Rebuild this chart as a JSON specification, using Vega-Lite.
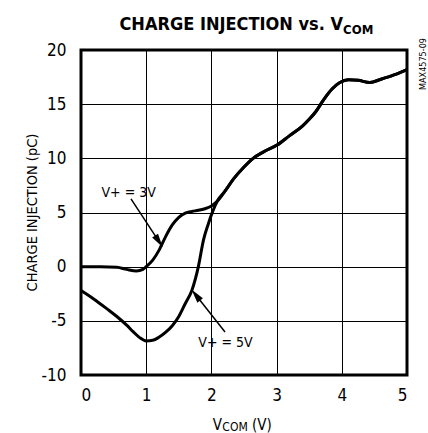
{
  "$schema": "https://vega.github.io/schema/vega-lite/v6.json",
  "width": 326,
  "height": 325,
  "autosize": {"type": "none"},
  "padding": {"left": 81, "top": 50, "right": 21, "bottom": 58},
  "background": "white",
  "config": {
    "view": {"stroke": "black", "strokeWidth": 3},
    "font": "DejaVu Sans Condensed",
    "axis": {
      "domain": false,
      "ticks": false,
      "grid": true,
      "gridColor": "black",
      "gridWidth": 1,
      "gridOpacity": 1,
      "labelFont": "DejaVu Sans Condensed",
      "labelFontSize": 17,
      "labelColor": "black",
      "titleFont": "DejaVu Sans Condensed",
      "titleFontWeight": "normal",
      "titleColor": "black"
    }
  },
  "datasets": {
    "curves": [
      {"x": 0, "y": 0, "series": "V+ = 3V"},
      {"x": 0.3, "y": 0, "series": "V+ = 3V"},
      {"x": 0.55, "y": -0.05, "series": "V+ = 3V"},
      {"x": 0.7, "y": -0.25, "series": "V+ = 3V"},
      {"x": 0.85, "y": -0.4, "series": "V+ = 3V"},
      {"x": 0.95, "y": -0.25, "series": "V+ = 3V"},
      {"x": 1.0, "y": 0, "series": "V+ = 3V"},
      {"x": 1.1, "y": 0.6, "series": "V+ = 3V"},
      {"x": 1.2, "y": 1.55, "series": "V+ = 3V"},
      {"x": 1.3, "y": 2.8, "series": "V+ = 3V"},
      {"x": 1.4, "y": 3.85, "series": "V+ = 3V"},
      {"x": 1.5, "y": 4.55, "series": "V+ = 3V"},
      {"x": 1.6, "y": 4.95, "series": "V+ = 3V"},
      {"x": 1.7, "y": 5.1, "series": "V+ = 3V"},
      {"x": 1.8, "y": 5.2, "series": "V+ = 3V"},
      {"x": 1.9, "y": 5.35, "series": "V+ = 3V"},
      {"x": 2.0, "y": 5.6, "series": "V+ = 3V"},
      {"x": 2.1, "y": 6.1, "series": "V+ = 3V"},
      {"x": 2.2, "y": 6.9, "series": "V+ = 3V"},
      {"x": 2.34, "y": 8.1, "series": "V+ = 3V"},
      {"x": 2.5, "y": 9.2, "series": "V+ = 3V"},
      {"x": 2.64, "y": 10.0, "series": "V+ = 3V"},
      {"x": 2.8, "y": 10.6, "series": "V+ = 3V"},
      {"x": 3.0, "y": 11.2, "series": "V+ = 3V"},
      {"x": 3.2, "y": 12.1, "series": "V+ = 3V"},
      {"x": 3.4, "y": 13.0, "series": "V+ = 3V"},
      {"x": 3.5, "y": 13.6, "series": "V+ = 3V"},
      {"x": 3.6, "y": 14.3, "series": "V+ = 3V"},
      {"x": 3.72, "y": 15.4, "series": "V+ = 3V"},
      {"x": 3.85, "y": 16.4, "series": "V+ = 3V"},
      {"x": 3.97, "y": 17.0, "series": "V+ = 3V"},
      {"x": 4.1, "y": 17.25, "series": "V+ = 3V"},
      {"x": 4.25, "y": 17.2, "series": "V+ = 3V"},
      {"x": 4.43, "y": 17.0, "series": "V+ = 3V"},
      {"x": 4.6, "y": 17.3, "series": "V+ = 3V"},
      {"x": 4.8, "y": 17.7, "series": "V+ = 3V"},
      {"x": 5.0, "y": 18.2, "series": "V+ = 3V"},
      {"x": 0, "y": -2.2, "series": "V+ = 5V"},
      {"x": 0.2, "y": -3.0, "series": "V+ = 5V"},
      {"x": 0.4, "y": -3.9, "series": "V+ = 5V"},
      {"x": 0.55, "y": -4.6, "series": "V+ = 5V"},
      {"x": 0.7, "y": -5.4, "series": "V+ = 5V"},
      {"x": 0.8, "y": -6.0, "series": "V+ = 5V"},
      {"x": 0.9, "y": -6.55, "series": "V+ = 5V"},
      {"x": 1.0, "y": -6.85, "series": "V+ = 5V"},
      {"x": 1.1, "y": -6.8, "series": "V+ = 5V"},
      {"x": 1.2, "y": -6.5, "series": "V+ = 5V"},
      {"x": 1.3, "y": -6.05, "series": "V+ = 5V"},
      {"x": 1.4, "y": -5.45, "series": "V+ = 5V"},
      {"x": 1.5, "y": -4.6, "series": "V+ = 5V"},
      {"x": 1.6, "y": -3.4, "series": "V+ = 5V"},
      {"x": 1.7, "y": -2.2, "series": "V+ = 5V"},
      {"x": 1.8, "y": 0, "series": "V+ = 5V"},
      {"x": 1.88, "y": 2.5, "series": "V+ = 5V"},
      {"x": 1.95, "y": 3.9, "series": "V+ = 5V"},
      {"x": 2.02, "y": 5.1, "series": "V+ = 5V"},
      {"x": 2.1, "y": 6.15, "series": "V+ = 5V"},
      {"x": 2.2, "y": 6.9, "series": "V+ = 5V"},
      {"x": 2.34, "y": 8.1, "series": "V+ = 5V"},
      {"x": 2.5, "y": 9.2, "series": "V+ = 5V"},
      {"x": 2.64, "y": 10.0, "series": "V+ = 5V"},
      {"x": 2.8, "y": 10.6, "series": "V+ = 5V"},
      {"x": 3.0, "y": 11.2, "series": "V+ = 5V"},
      {"x": 3.2, "y": 12.1, "series": "V+ = 5V"},
      {"x": 3.4, "y": 13.0, "series": "V+ = 5V"},
      {"x": 3.5, "y": 13.6, "series": "V+ = 5V"},
      {"x": 3.6, "y": 14.3, "series": "V+ = 5V"},
      {"x": 3.72, "y": 15.4, "series": "V+ = 5V"},
      {"x": 3.85, "y": 16.4, "series": "V+ = 5V"},
      {"x": 3.97, "y": 17.0, "series": "V+ = 5V"},
      {"x": 4.1, "y": 17.25, "series": "V+ = 5V"},
      {"x": 4.25, "y": 17.2, "series": "V+ = 5V"},
      {"x": 4.43, "y": 17.0, "series": "V+ = 5V"},
      {"x": 4.6, "y": 17.3, "series": "V+ = 5V"},
      {"x": 4.8, "y": 17.7, "series": "V+ = 5V"},
      {"x": 5.0, "y": 18.2, "series": "V+ = 5V"}
    ],
    "arrows": [
      {"label": "V+ = 3V", "x": 0.767, "y": 6.25, "x2": 1.195, "y2": 2.332},
      {"label": "V+ = 5V", "x": 2.209, "y": -6.03, "x2": 1.761, "y2": -2.616}
    ],
    "texts": [
      {"kind": "note", "text": "V+ = 3V", "x": 0.731, "y": 6.385},
      {"kind": "note", "text": "V+ = 5V", "x": 2.216, "y": -7.42},
      {"kind": "title", "text": "CHARGE INJECTION vs. V", "x": 4.018, "y": 21.85},
      {"kind": "titlesub", "text": "COM", "x": 4.02, "y": 21.48},
      {"kind": "xtitle", "text": "V", "x": 2.163, "y": -15.08},
      {"kind": "xtitlesub", "text": "COM", "x": 2.168, "y": -15.17},
      {"kind": "xtitleend", "text": "(V)", "x": 2.623, "y": -15.08},
      {"kind": "code", "text": "MAX4575-09", "x": 5.253, "y": 18.71}
    ]
  },
  "layer": [
    {
      "data": {"name": "curves"},
      "mark": {"type": "line", "color": "black", "strokeWidth": 3, "interpolate": "monotone"},
      "encoding": {
        "x": {"field": "x", "type": "quantitative", "scale": {"domain": [0, 5], "nice": false, "zero": false},
              "axis": {"values": [0, 1, 2, 3, 4, 5], "labelExpr": "'' + datum.value", "labelPadding": 12, "title": null}},
        "y": {"field": "y", "type": "quantitative", "scale": {"domain": [-10, 20], "nice": false, "zero": false},
              "axis": {"values": [-10, -5, 0, 5, 10, 15, 20], "labelExpr": "'' + datum.value", "labelPadding": 15, "title": "CHARGE INJECTION (pC)",
                       "titleFontSize": 14.5, "titleX": -45, "titleY": 162, "titleBaseline": "alphabetic"}},
        "detail": {"field": "series", "type": "nominal"}
      }
    },
    {
      "data": {"name": "arrows"},
      "mark": {"type": "rule", "color": "black", "strokeWidth": 1.5},
      "encoding": {
        "x": {"field": "x", "type": "quantitative"},
        "y": {"field": "y", "type": "quantitative"},
        "x2": {"field": "x2"},
        "y2": {"field": "y2"}
      }
    },
    {
      "data": {"name": "arrows"},
      "transform": [{"filter": "datum.label === 'V+ = 3V'"}],
      "mark": {"type": "point", "shape": "M0,-1L0.5,1L-0.5,1Z", "filled": true, "color": "black", "opacity": 1, "size": 196, "angle": 146.8},
      "encoding": {
        "x": {"field": "x2", "type": "quantitative"},
        "y": {"field": "y2", "type": "quantitative"}
      }
    },
    {
      "data": {"name": "arrows"},
      "transform": [{"filter": "datum.label === 'V+ = 5V'"}],
      "mark": {"type": "point", "shape": "M0,-1L0.5,1L-0.5,1Z", "filled": true, "color": "black", "opacity": 1, "size": 196, "angle": 321.8},
      "encoding": {
        "x": {"field": "x2", "type": "quantitative"},
        "y": {"field": "y2", "type": "quantitative"}
      }
    },
    {
      "data": {"name": "texts"},
      "transform": [{"filter": "datum.kind === 'note'"}],
      "mark": {"type": "text", "font": "DejaVu Sans Condensed", "fontSize": 14, "align": "center", "baseline": "alphabetic", "color": "black"},
      "encoding": {
        "x": {"field": "x", "type": "quantitative"},
        "y": {"field": "y", "type": "quantitative"},
        "text": {"field": "text"}
      }
    },
    {
      "data": {"name": "texts"},
      "transform": [{"filter": "datum.kind === 'title'"}],
      "mark": {"type": "text", "font": "DejaVu Sans Condensed", "fontWeight": "bold", "fontSize": 18, "align": "right", "baseline": "alphabetic", "color": "black"},
      "encoding": {
        "x": {"field": "x", "type": "quantitative"},
        "y": {"field": "y", "type": "quantitative"},
        "text": {"field": "text"}
      }
    },
    {
      "data": {"name": "texts"},
      "transform": [{"filter": "datum.kind === 'titlesub'"}],
      "mark": {"type": "text", "font": "DejaVu Sans Condensed", "fontWeight": "bold", "fontSize": 13, "align": "left", "baseline": "alphabetic", "color": "black"},
      "encoding": {
        "x": {"field": "x", "type": "quantitative"},
        "y": {"field": "y", "type": "quantitative"},
        "text": {"field": "text"}
      }
    },
    {
      "data": {"name": "texts"},
      "transform": [{"filter": "datum.kind === 'xtitle'"}],
      "mark": {"type": "text", "font": "DejaVu Sans Condensed", "fontSize": 15, "align": "right", "baseline": "alphabetic", "color": "black"},
      "encoding": {
        "x": {"field": "x", "type": "quantitative"},
        "y": {"field": "y", "type": "quantitative"},
        "text": {"field": "text"}
      }
    },
    {
      "data": {"name": "texts"},
      "transform": [{"filter": "datum.kind === 'xtitlesub'"}],
      "mark": {"type": "text", "font": "DejaVu Sans Condensed", "fontSize": 12, "align": "left", "baseline": "alphabetic", "color": "black"},
      "encoding": {
        "x": {"field": "x", "type": "quantitative"},
        "y": {"field": "y", "type": "quantitative"},
        "text": {"field": "text"}
      }
    },
    {
      "data": {"name": "texts"},
      "transform": [{"filter": "datum.kind === 'xtitleend'"}],
      "mark": {"type": "text", "font": "DejaVu Sans Condensed", "fontSize": 15, "align": "left", "baseline": "alphabetic", "color": "black"},
      "encoding": {
        "x": {"field": "x", "type": "quantitative"},
        "y": {"field": "y", "type": "quantitative"},
        "text": {"field": "text"}
      }
    },
    {
      "data": {"name": "texts"},
      "transform": [{"filter": "datum.kind === 'code'"}],
      "mark": {"type": "text", "font": "DejaVu Sans Condensed", "fontSize": 9, "align": "center", "baseline": "middle", "angle": 270, "color": "black"},
      "encoding": {
        "x": {"field": "x", "type": "quantitative"},
        "y": {"field": "y", "type": "quantitative"},
        "text": {"field": "text"}
      }
    }
  ]
}
